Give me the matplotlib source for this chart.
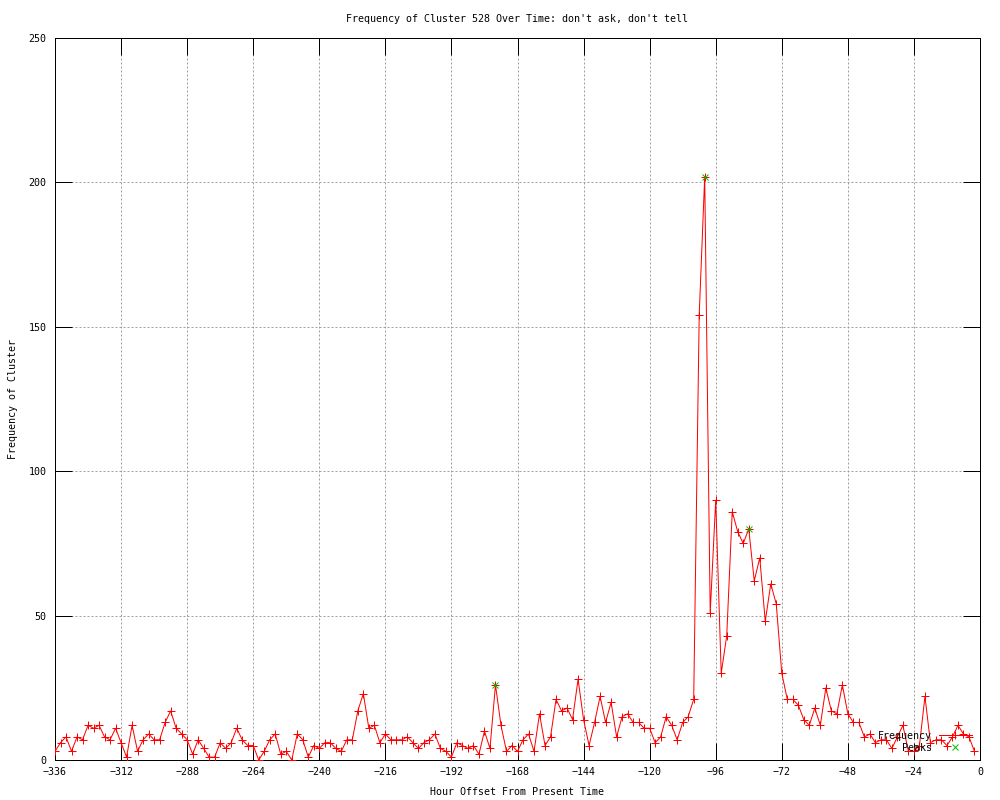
import numpy as np
import matplotlib
matplotlib.use('Agg')
import matplotlib.pyplot as plt
from matplotlib.lines import Line2D

# hourly bins, every 2 hours
hours = np.arange(-336, 0, 2)
frequency = [
    3, 6, 8, 3, 8, 7, 12, 11, 12, 8, 7, 11, 6, 1, 12, 3, 7, 9, 7, 7, 13,
    17, 11, 9, 7, 2, 7, 4, 1, 1, 6, 4, 6, 11, 7, 5, 5, 0, 3, 7, 9, 2,
    3, 0, 9, 7, 1, 5, 4, 6, 6, 4, 3, 7, 7, 17, 23, 11, 12, 6, 9, 7, 7,
    7, 8, 6, 4, 6, 7, 9, 4, 3, 1, 6, 5, 4, 5, 2, 10, 4, 26, 12, 3, 5,
    3, 7, 9, 3, 16, 5, 8, 21, 17, 18, 14, 28, 14, 5, 13, 22, 13, 20, 8,
    15, 16, 13, 13, 11, 11, 6, 8, 15, 12, 7, 13, 15, 21,
    154, 202, 51, 90, 30, 43, 86, 79, 75, 80, 62, 70, 48, 61, 54, 30,
    21, 21, 19, 14, 12, 18, 12, 25, 17, 16, 26, 16, 13, 13, 8, 9, 6, 7,
    7, 4, 8, 12, 3, 3, 5, 22, 6, 7, 7, 5, 8, 12, 9, 8, 3,
]
peak_hours = [-176, -100, -84]
peak_values = [26, 202, 80]

xticks = list(range(-336, 1, 24))
yticks = list(range(0, 251, 50))

title = "Frequency of Cluster 528 Over Time: don't ask, don't tell"
xlabel = 'Hour Offset From Present Time'
ylabel = 'Frequency of Cluster'

plt.rcParams['font.family'] = ['DejaVu Sans Mono', 'DejaVu Sans']
fs = 7.2
px = 0.72  # one pixel in points at 100 dpi

fig = plt.figure(figsize=(10, 8), dpi=100)
ax = fig.add_axes([0.055, 0.05, 0.925, 0.9025])

ax.plot(hours, frequency, color='#ff0000', lw=px, marker='+', ms=5.5,
        mew=px, zorder=3)
ax.plot(peak_hours, peak_values, ls='none', color='#00c000', marker='x',
        ms=4.5, mew=px, zorder=4)

ax.set_xlim(-336, 0)
ax.set_ylim(0, 250)
ax.set_xticks(xticks)
ax.set_yticks(yticks)
ax.tick_params(direction='in', length=12, width=px, top=True, right=True,
               labelsize=fs, colors='black')
ax.tick_params(axis='x', pad=5)
ax.tick_params(axis='y', pad=6)
ax.grid(True, color='#a0a0a0', lw=px, ls=(0, (2, 2)))
for s in ax.spines.values():
    s.set_linewidth(px)

ax.set_title(title, fontsize=fs, pad=11.5)
ax.set_xlabel(xlabel, fontsize=fs)
ax.xaxis.set_label_coords(0.5, -0.037)
ax.set_ylabel(ylabel, fontsize=fs)
ax.yaxis.set_label_coords(-0.04, 0.5)

handles = [
    Line2D([], [], color='#ff0000', lw=px, marker='+', ms=5.5, mew=px),
    Line2D([], [], color='#00c000', ls='none', marker='x', ms=4.5, mew=px),
]
ax.legend(handles, ['Frequency', 'Peaks'], loc='lower right',
          bbox_to_anchor=(0.991, 0.01), frameon=False, markerfirst=False,
          fontsize=fs, handlelength=3.3, handletextpad=0.7,
          labelspacing=0.2, borderpad=0, borderaxespad=0, numpoints=1)

fig.savefig('out.png', dpi=100)
